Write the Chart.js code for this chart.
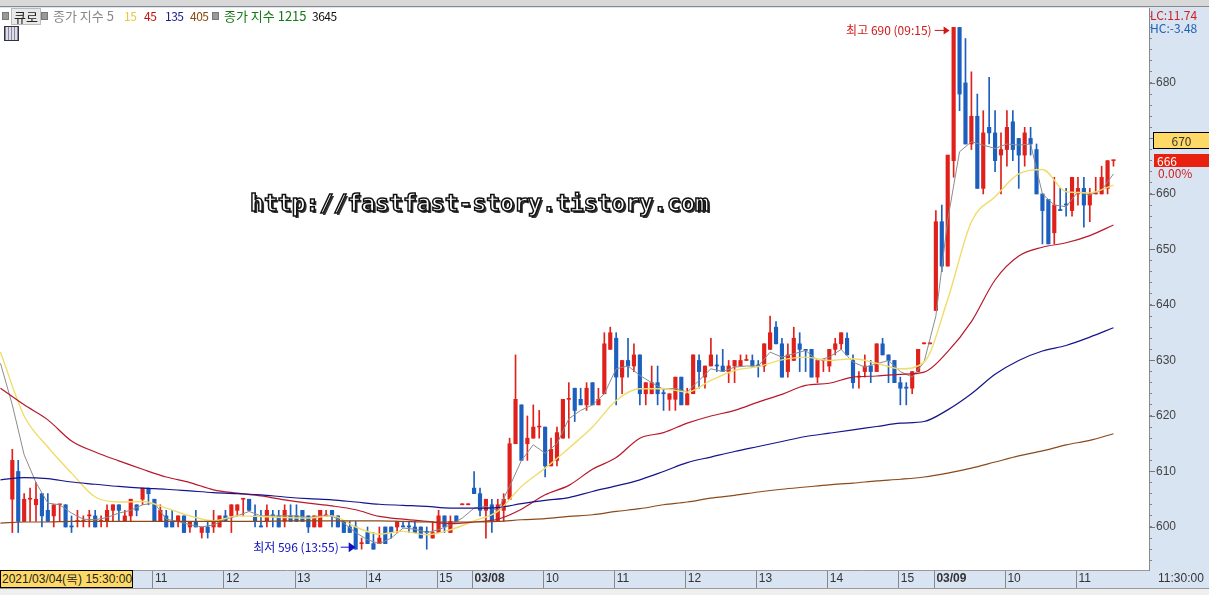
<!DOCTYPE html>
<html>
<head>
<meta charset="utf-8">
<script src="https://cdn.jsdelivr.net/npm/chart.js@4"></script>
<style>
  html, body { margin: 0; padding: 0; background: #fff; overflow: hidden; }
  #wrap { position: relative; width: 1209px; height: 595px; font: 12px "Noto Sans CJK KR", "Liberation Sans", sans-serif; }
  #wrap span, #wrap div.box { position: absolute; white-space: nowrap; }
  .sq { width: 5px; height: 6px; background: #999; border: 1px solid #777; }
  .lg { top: 6px; font-size: 13px; }
  .nm { top: 7px; font-size: 12px; letter-spacing: -0.5px; }
  #btn { left: 11px; top: 8px; width: 28px; height: 15px; line-height: 15px; text-align: center; background: #e9e9e9; border: 1px solid #bbb; color: #222; font-size: 13px; }
  #grid { left: 4px; top: 26px; width: 13px; height: 13px; border: 1px solid #333; background: repeating-linear-gradient(90deg, #889 0 1px, #dde 1px 3px); }
  #topbar { position: absolute; left: 0; top: 0; width: 1209px; height: 7px; background: #d8d8d8; border-bottom: 1px solid #888; box-sizing: border-box; }
  #botbar { position: absolute; left: 0; top: 588px; width: 1209px; height: 7px; background: #efefef; border-top: 1px solid #999; box-sizing: border-box; }
  #cursor { left: 0; top: 570px; width: 133px; height: 18px; line-height: 17px; background: #ffd966; border: 1px solid #000; color: #222; font-family: "Liberation Sans"; box-sizing: border-box; padding-left: 1px; }
  #watermark { left: 250px; top: 190px; font: bold 23.1px "DejaVu Sans Mono"; color: #fff; -webkit-text-stroke: 1.5px #111; text-shadow: 2px 2px 0 #333; }
</style>
</head>
<body>
<div id="wrap">
  <canvas id="chart" width="1209" height="595" style="display:block;width:1209px;height:595px"></canvas>
  <div id="topbar"></div>
  <div id="botbar"></div>
  <span class="sq" style="left:2px;top:12px"></span>
  <span id="btn">큐로</span>
  <span class="sq" style="left:41px;top:12px"></span>
  <span class="lg" style="left:53px;color:#888">종가 지수 5</span>
  <span class="nm" style="left:124px;color:#e8c83c">15</span>
  <span class="nm" style="left:144px;color:#c81010">45</span>
  <span class="nm" style="left:165px;color:#1a1a90">135</span>
  <span class="nm" style="left:190px;color:#8a4a10">405</span>
  <span class="sq" style="left:212px;top:12px"></span>
  <span class="lg" style="left:224px;color:#147a14">종가 지수 1215</span>
  <span class="nm" style="left:312px;color:#111">3645</span>
  <span id="grid"></span>
  <span id="cursor">2021/03/04(목) 15:30:00</span>
  <span style="left:1150px;top:6px;color:#d02020">LC:11.74</span>
  <span style="left:1150px;top:19px;color:#2060b0">HC:-3.48</span>
  <div class="box" style="left:1153px;top:132px;width:56px;height:17px;line-height:16px;background:#ffd966;border:1px solid #000;border-right:0;box-sizing:border-box;text-align:center;color:#333">670</div>
  <div class="box" style="left:1154px;top:154px;width:55px;height:13px;line-height:13px;background:#e8200f;color:#fff;padding-left:3px;box-sizing:border-box">666</div>
  <span style="left:1158px;top:164px;color:#d02020">0.00%</span>
  <span id="watermark">http://fastfast-story.tistory.com</span>
</div>
<script>
// 5 minute candles, 03/04 09:00 is index 0, 03/09 11:30 is index 186
const opens = [
  605,610,601,605,604,606,603,602,604,604,
  600.2,601,601,602,602,601,601,603,604,601,
  602,604,605,607,605,601,602,601,601,602,
  600,601,599,600,600,600,602,602,603,605,
  605,602,600.2,601,602.2,602,601,602,602,603,
  602,600,600,602,603,602,601,600,600,597,
  599,597,597,600,600,600,600.2,600.2,600,600,
  599.2,598,599,602,599,602,604,604,607,606,
  603,604,601,603,605,615,622,615,616,618,
  618,611,612,616,623,625,623,622,626,622,
  624,632,634,627,630,629,631,624,624,626,
  624.2,623,623,627,622,624,630,627,629,629.2,
  629,628,629,629,630,630,629.2,629,632,636,
  633,628,630,633,632,632,627,630,629,632,
  633,634,630,627,628,629,628,633,631,630,
  626,625.2,625,628,633,633,639,655,647,666,
  690,680,669,674,661,672,671,667,668,673,
  670,667,670,668,660,659,653,657.2,658.2,657,
  660,661,658,660,660,661,666
];
const highs = [
  614,612,606,607,608,606,606,604,604,604,
  602,603,602,603,603,602,604,604,604,603,
  605,604,607,607,605,604,603,603,602,602,
  601,603,600,601,603,602,603,604,604,605,
  605,604,603,604,603,603,604,604,604,603,
  602,602,603,603,603,602,601,601,601,598,
  600,599,600,600,600,601,601,601,601,600,
  600,601,603,602,602,602,604,604,610,607,
  605,605,605,606,616,631,622,620,622,621,
  618,616,618,623,626,625,625,626,626,625,
  635,636,635,630,634,633,631,626,629,629,
  625,624,627,627,625,631,631,629,634,631,
  632,630,630,631,631,631,630,633,638,637,
  634,633,636,635,632,632,630,630,632,634,
  635,635,631,628,631,630,633,634,631,630,
  627,626,628,632,633,633,657,658,667,690,
  690,688,682,678,675,681,675,671,675,675,
  670,672,672,669,660,659,663,661,661,663,
  663,663,661,663,665,666,666
];
const lows = [
  599,599,601,601,601,600,601,600,601,600,
  599,600,600,600,600,600,600,601,601,601,
  601,602,604,604,601,601,600,600,600,599,
  599,600,598,598,599,600,601,599,602,602,
  603,600,600,600,600,600,600,601,601,601,
  599,600,600,602,600,600,599,599,596,596,
  597,596,597,597,598,599,600,599,599,598,
  596,598,599,599,599,601,604,604,606,602,
  598,599,601,601,605,615,612,612,616,616,
  609,611,611,616,616,619,622,621,622,622,
  624,632,622,624,627,628,622,622,624,622,
  621,621,621,622,622,624,625,625,629,628,
  628,626,626,629,630,629,627,628,632,633,
  627,627,630,628,628,627,626,628,628,631,
  632,631,625,625,627,626,628,631,626,626,
  622,622,624,628,633,633,639,646,647,663,
  675,669,668,661,660,669,664,660,665,666,
  661,665,667,660,651,651,651,657,656,656,
  658,654,655,660,660,660,665
];
const closes = [
  612,601,605,605,605,602,601,604,604,600,
  600,601,601,602,600,601,603,604,603,602,
  605,603,607,606,601,603,600,600,602,599,
  601,600,600,599,601,602,601,604,604,605,
  603,601,600,603,602,600,603,601,601,601,
  600,602,603,602,602,600,599,599,596,597,
  597,596,598,597,599,601,600,600,599,598,
  599,599,602,600,601,601,604,604,606,603,
  605,601,604,605,615,623,612,616,618,618,
  611,614,617,623,623,621,622,625,622,623,
  633,635,627,630,629,631,624,626,626,624,
  624,624,627,622,624,631,628,629,631,629,
  628,629,630,630,630,629,629,633,635,633,
  627,631,634,632,631.8,627,630,630,632,633,
  635,631,626,627,629,628,633,631,630,626,
  625,625,628,632,633,633,655,647,667,690,
  678,669,674,661,671,671,666,668,672,668,
  667,671,669,660,657,651,658,657,658,663,
  661,658,660,660,663,666,666
];

// moving averages, read every 2 candles (5) or every 4 candles (others), starting at index -2
const ma5 = [
  629.5,622,613,608,604.3,604,602.5,601.4,601.3,601.7,
  602.5,603,604,604.3,601.4,601,600.4,600,600.4,601.4,
  602,602.8,602,602,602,602,601.7,602,602,600.7,
  599,597.7,597,598,599.8,599.6,599,599.5,600.4,601.6,
  603.4,603.7,603,607.3,612,614.8,613.3,615,619.5,621,
  622,624,628.5,629,627.3,626,624.8,625,624.3,626.4,
  628.5,628,628.8,629,629,631.5,630.6,631.2,631.8,630,
  630.6,632,629.7,628.8,629.4,630,628,627,629.7,638,
  655.3,667.6,669.4,668.8,668.2,669,668.8,669,660,658,
  657.7,660.4,659.8,660.7,663.6
];
const ma15 = [
  631.5,620,614.4,609.7,605.4,604.5,604.6,603.4,602,601.1,
  602,601.9,601.7,601.6,602,600,598.7,599.2,598.6,599.5,
  601.1,602.8,607.3,610.6,614.2,618,622.8,624.9,624.9,624.3,
  626.4,628.2,628.9,630.1,630.6,630,630.3,629.5,628.5,629.7,
  641,655,659.5,663.6,664.4,660.4,660.2,661.6
];
const ma45 = [
  625,622,619.3,615.5,613.5,611.9,610.4,609,608,606.7,
  606.1,605.6,604.9,604.3,603.8,603.1,601.9,601.4,601,600.6,
  600.9,601.4,603.2,605.8,607.5,610.4,612.5,616,617,618.7,
  620,621,622.5,623.9,625.5,625.9,627,627.2,627.5,627.9,
  631.6,637,644.5,648.8,650.4,651.2,652.5,654.4
];
const ma135 = [
  608.5,608.9,608.7,608.1,607.7,607.3,607,606.8,606.5,606.2,
  606,605.8,605.4,605.1,604.9,604.5,604.1,603.9,603.7,603.4,
  603.4,603.5,604.2,604.8,605.3,606.4,607.4,608.5,610,611.6,
  612.6,613.6,614.5,615.4,616.3,616.9,617.5,618.1,618.7,619,
  621.1,624,627.5,630,631.7,632.7,634.2,635.9
];
const ma405 = [
  600.7,600.9,600.9,601,601,601,601,601,601,601,
  601,601,601.1,601.1,601.1,601.1,601.1,601,600.9,600.9,
  600.9,601,601.3,601.5,601.9,602.2,602.8,603.3,604,604.5,
  605.2,605.7,606.3,606.8,607.2,607.6,607.9,608.3,608.6,609,
  609.7,610.6,611.7,612.8,613.7,614.8,615.6,616.8
];

const hourIdx = [24, 36, 48, 60, 72, 78, 90, 102, 114, 126, 138, 150, 156, 168, 180];
const hourLabels = ['11', '12', '13', '14', '15', '03/08', '10', '11', '12', '13', '14', '15', '03/09', '10', '11'];
const priceTicks = [600, 610, 620, 630, 640, 650, 660, 670, 680];
const minorTicks = [594, 596, 598, 602, 604, 606, 608, 612, 614, 616, 618, 622, 624, 626, 628, 632, 634, 636, 638, 642, 644, 646, 648,
  652, 654, 656, 658, 662, 664, 666, 668, 672, 674, 676, 678, 682, 684, 686, 688, 690, 692];

const RED = '#e0201a', BLUE = '#1c5fbe';
const candleColor = ctx => closes[ctx.dataIndex] >= opens[ctx.dataIndex] ? RED : BLUE;
const maPoints = (vals, step) => vals.map((v, k) => ({ x: -2 + k * step, y: v }));
const maLine = (vals, step, color, width, smooth) => ({
  type: 'line', data: maPoints(vals, step), borderColor: color, borderWidth: width,
  pointRadius: 0, cubicInterpolationMode: smooth ? 'monotone' : 'default', order: 1
});

// notes and the panel bands are drawn around the library's scales
const notes = {
  id: 'notes',
  beforeDraw(c) {
    const g = c.ctx, a = c.chartArea;
    g.save();
    g.fillStyle = '#d9e4f3';
    g.fillRect(0, 0, c.width, c.height);
    g.fillStyle = '#fff';
    g.fillRect(a.left, a.top, a.right - a.left, a.bottom - a.top);
    g.restore();
  },
  afterDraw(c) {
    const g = c.ctx, xs = c.scales.x, ys = c.scales.y;
    g.save();
    // longer marks for the labelled prices
    g.strokeStyle = '#777';
    priceTicks.forEach(v => {
      const y = Math.round(ys.getPixelForValue(v)) + 0.5;
      g.beginPath(); g.moveTo(ys.left, y); g.lineTo(ys.left + 6, y); g.stroke();
    });
    g.font = '12px "Noto Sans CJK KR", "Liberation Sans"';
    g.textBaseline = 'middle';
    // 최고
    let px = xs.getPixelForValue(159) - 4, py = ys.getPixelForValue(690) + 3;
    g.fillStyle = g.strokeStyle = '#d01818';
    g.textAlign = 'right';
    g.fillText('최고 690 (09:15)', px - 18, py);
    g.beginPath(); g.moveTo(px - 15, py); g.lineTo(px - 4, py); g.stroke();
    g.beginPath(); g.moveTo(px, py); g.lineTo(px - 6, py - 4); g.lineTo(px - 6, py + 4); g.fill();
    // 최저
    px = xs.getPixelForValue(58) + 4 - 7; py = ys.getPixelForValue(596) - 2;
    g.fillStyle = g.strokeStyle = '#1010c0';
    g.fillText('최저 596 (13:55)', px - 14, py);
    g.beginPath(); g.moveTo(px - 12, py); g.lineTo(px - 2, py); g.stroke();
    g.beginPath(); g.moveTo(px + 3, py); g.lineTo(px - 4, py - 5); g.lineTo(px - 4, py + 5); g.fill();
    g.restore();
  }
};

new Chart(document.getElementById('chart'), {
  data: {
    datasets: [
      { type: 'bar', stack: 'candle', data: highs.map((h, i) => ({ x: i, y: [lows[i], h] })), backgroundColor: candleColor,
        barThickness: 1, minBarLength: 1, order: 3 },
      { type: 'bar', stack: 'candle', data: opens.map((o, i) => ({ x: i, y: [o, closes[i]] })), backgroundColor: candleColor,
        barThickness: 3.5, minBarLength: 1, order: 2 },
      maLine(ma405, 4, '#8a4a1a', 1.2, true),
      maLine(ma135, 4, '#14148c', 1.2, true),
      maLine(ma45, 4, '#b8182c', 1.2, true),
      maLine(ma15, 4, '#f0dc6a', 1.4, true),
      maLine(ma5, 2, '#8c8c8c', 1, false)
    ]
  },
  options: {
    responsive: false,
    animation: false,
    layout: { padding: { top: 8, bottom: 7, left: 0, right: 0 } },
    plugins: { legend: { display: false }, tooltip: { enabled: false } },
    scales: {
      x: {
        type: 'linear', min: -2.08, max: 192, offset: false, stacked: true,
        afterFit: s => { s.height = 18; s.paddingLeft = 0; s.paddingRight = 0; },
        afterBuildTicks: s => { s.ticks = hourIdx.map(v => ({ value: v - 0.25 })); },
        grid: { offset: false, drawOnChartArea: false, tickLength: 18, color: '#888', tickColor: '#888' },
        border: { color: '#999' },
        ticks: {
          autoSkip: false, maxRotation: 0, align: 'start', labelOffset: 2, padding: -17, color: '#333',
          font: c => ({ family: '"Liberation Sans"', size: 12, weight: (hourLabels[c.index] || '').includes('/') ? 'bold' : 'normal' }),
          callback: (v, i) => hourLabels[i]
        }
      },
      y: {
        position: 'right', min: 592.25, max: 693.5, stacked: false,
        afterFit: s => { s.width = 60; s.paddingTop = 0; s.paddingBottom = 0; },
        afterBuildTicks: s => {
          s.ticks = [...priceTicks, ...minorTicks].sort((a, b) => a - b).map(v => ({ value: v }));
        },
        grid: { drawOnChartArea: false, tickLength: 3, tickColor: '#888', color: '#888' },
        border: { color: '#888' },
        ticks: {
          autoSkip: false, padding: 4, color: '#444', font: { family: '"Liberation Sans"', size: 12 },
          callback: v => priceTicks.includes(v) ? String(v) : ''
        }
      }
    }
  },
  plugins: [notes]
});
// right end of the time band
const endLabel = document.createElement('span');
endLabel.textContent = '11:30:00';
endLabel.style.cssText = 'left:1158px;top:571px;color:#333;font-family:"Liberation Sans"';
document.getElementById('wrap').appendChild(endLabel);
</script>
</body>
</html>
